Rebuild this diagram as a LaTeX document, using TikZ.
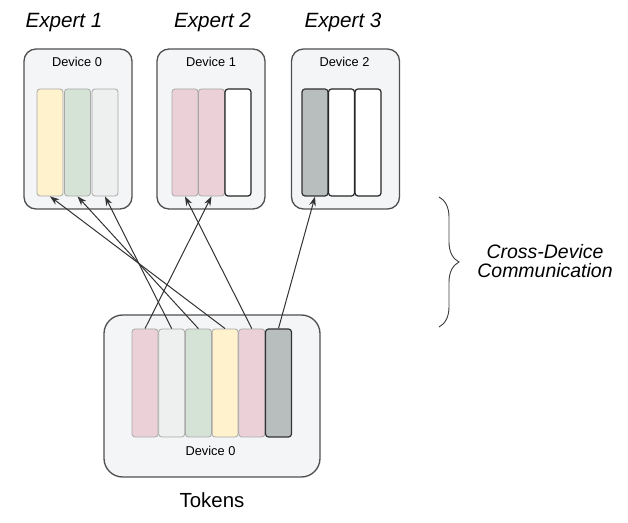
\documentclass[tikz,border=0pt]{standalone}
\usepackage{fontspec}
\setmainfont{Liberation Sans}
\usetikzlibrary{arrows.meta,decorations.pathreplacing}
\definecolor{boxfill}{HTML}{F4F5F7}
\definecolor{boxborder}{HTML}{505050}
\definecolor{barborder}{HTML}{A8A8A8}
\definecolor{cyellow}{HTML}{FFF2CC}
\definecolor{cgreen}{HTML}{D5E3D6}
\definecolor{clight}{HTML}{EDF0EF}
\definecolor{cpink}{HTML}{EBD1D7}
\definecolor{cgray}{HTML}{B8BEBE}
\definecolor{linec}{HTML}{333333}
\tikzset{
  devbox/.style={draw=boxborder, fill=boxfill, line width=1pt, rounded corners=9pt,
    minimum width=81pt, minimum height=120pt, inner sep=0pt},
  tokbox/.style={draw=boxborder, fill=boxfill, line width=1pt, rounded corners=14pt,
    minimum width=162pt, minimum height=121.5pt, inner sep=0pt},
  topbar/.style={draw=barborder, line width=0.6pt, rounded corners=2.25pt,
    minimum width=19.5pt, minimum height=80.25pt, inner sep=0pt},
  tokbar/.style={draw=barborder, line width=0.6pt, rounded corners=2.25pt,
    minimum width=19.5pt, minimum height=81pt, inner sep=0pt},
  whitebar/.style={draw=black!85, line width=0.9pt, fill=white},
  darkbar/.style={draw=black!80, line width=0.9pt, fill=cgray},
  devlabel/.style={anchor=base, inner sep=0pt, font=\fontsize{9.6}{11}\selectfont},
  explabel/.style={anchor=base, inner sep=0pt, font=\fontsize{15.5}{18}\selectfont\itshape},
  toklabel/.style={anchor=base, inner sep=0pt, font=\fontsize{15.3}{18}\selectfont},
  commlabel/.style={align=center, inner sep=0pt, font=\fontsize{14.6}{14.8}\selectfont\itshape},
  conn/.style={draw=linec, line width=0.75pt, -{Stealth[length=7pt,width=5pt]}},
  bracestyle/.style={draw=black!75, line width=0.7pt,
    decorate, decoration={brace, amplitude=15pt}}
}
\begin{document}
\begin{tikzpicture}[x=0.75pt,y=-0.75pt]
\useasboundingbox (0,0) rectangle (628,523);

% expert labels
\node[explabel] (e1) at (64,28) {Expert 1};
\node[explabel] (e2) at (212.5,28) {Expert 2};
\node[explabel] (e3) at (343,28) {Expert 3};

% device boxes (top)
\node[devbox] (dev0) at (78,129) {};
\node[devbox] (dev1) at (211,129) {};
\node[devbox] (dev2) at (345.5,129) {};
\node[devlabel] (l0) at (77,67) {Device 0};
\node[devlabel] (l1) at (211,67) {Device 1};
\node[devlabel] (l2) at (344.5,67) {Device 2};

% expert bars
\node[topbar, fill=cyellow] (a1) at (50,142.5) {};
\node[topbar, fill=cgreen]  (a2) at (77.5,142.5) {};
\node[topbar, fill=clight]  (a3) at (105,142.5) {};
\node[topbar, fill=cpink]   (b1) at (185,142.5) {};
\node[topbar, fill=cpink]   (b2) at (211.5,142.5) {};
\node[topbar, whitebar]     (b3) at (238,142.5) {};
\node[topbar, darkbar]      (c1) at (315,142.5) {};
\node[topbar, whitebar]     (c2) at (341.5,142.5) {};
\node[topbar, whitebar]     (c3) at (368,142.5) {};

% token device
\node[tokbox] (tdev) at (212,396) {};
\node[tokbar, fill=cpink]   (t1) at (145,383) {};
\node[tokbar, fill=clight]  (t2) at (171.7,383) {};
\node[tokbar, fill=cgreen]  (t3) at (198.4,383) {};
\node[tokbar, fill=cyellow] (t4) at (225.1,383) {};
\node[tokbar, fill=cpink]   (t5) at (251.8,383) {};
\node[tokbar, darkbar]      (t6) at (278.5,383) {};
\node[devlabel] (lt) at (210.5,456) {Device 0};
\node[toklabel] (tok) at (212,508) {Tokens};

% connectors
\draw[conn] (t1.north) -- (b2.south);
\draw[conn] (t2.north) -- (a3.south);
\draw[conn] (t3.north) -- (a2.south);
\draw[conn] (t4.north) -- (a1.south);
\draw[conn] (t5.north) -- (b1.south);
\draw[conn] (t6.north) -- (c1.south);

% brace and label
\coordinate (bt) at (439,197);
\coordinate (bb) at (439,327);
\draw[bracestyle] (bt) -- (bb);
\node[commlabel] (comm) at (545,261) {Cross-Device\\Communication};
\end{tikzpicture}
\end{document}
